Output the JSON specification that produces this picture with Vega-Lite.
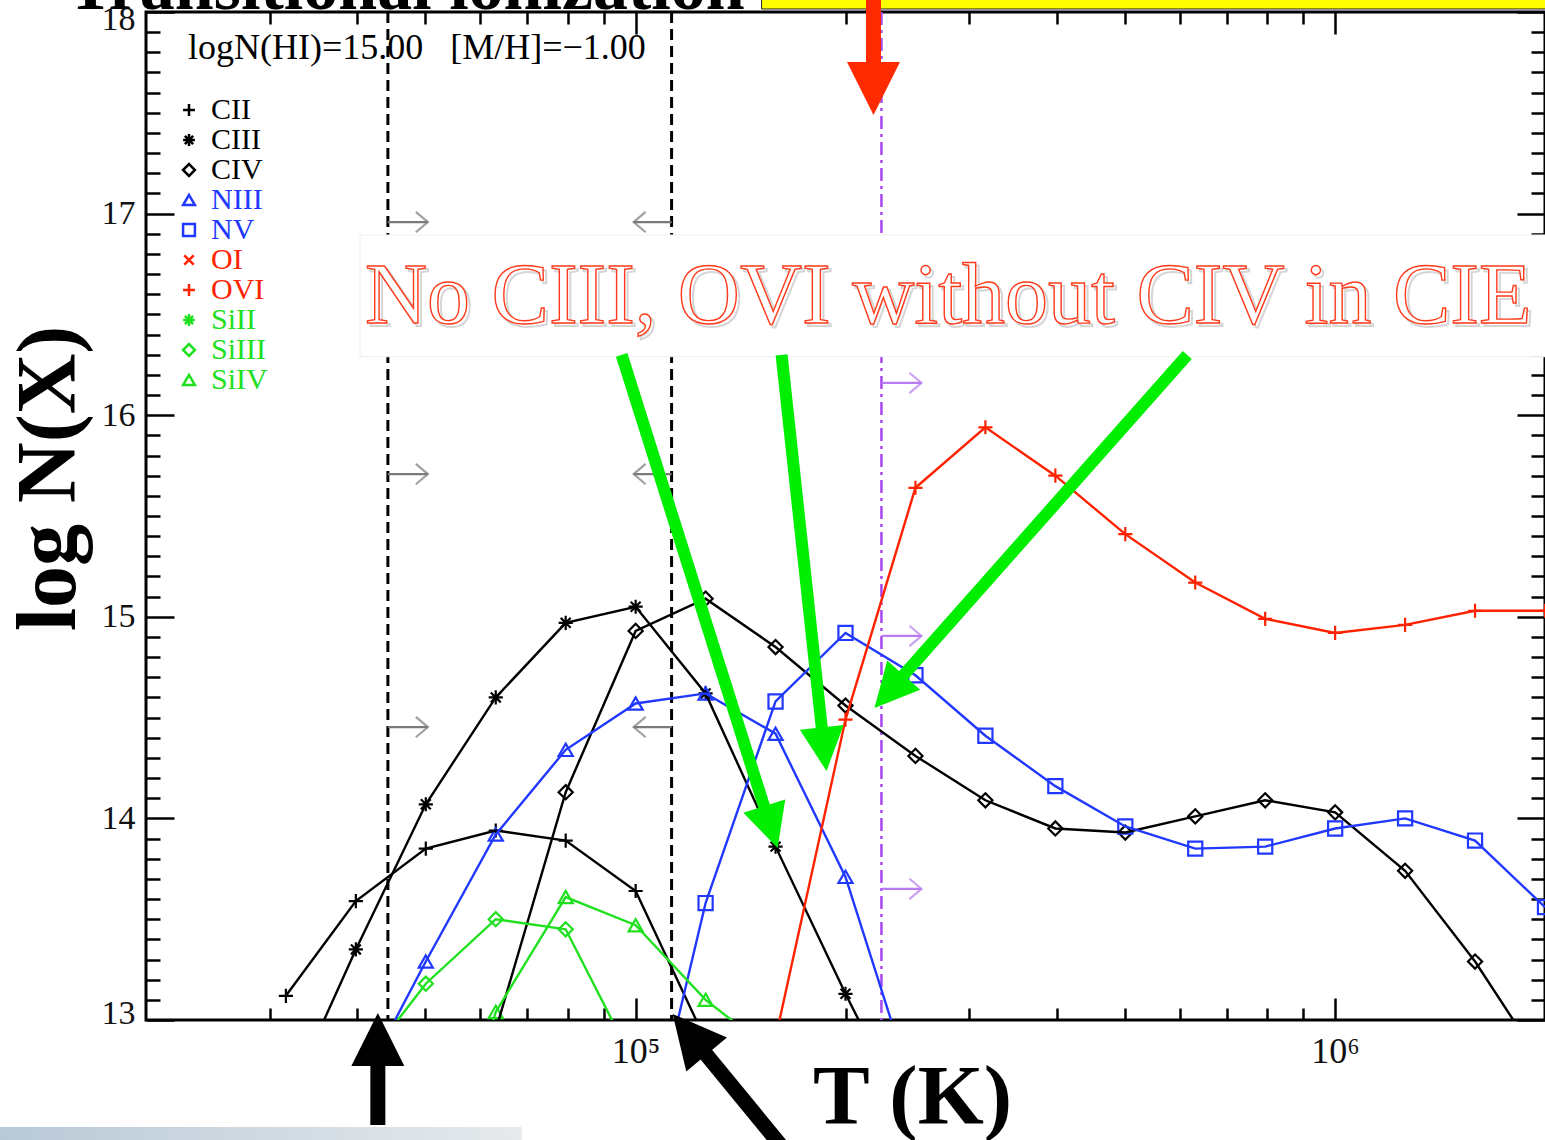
{
"$schema": "https://vega.github.io/schema/vega-lite/v6.json",
"width": 1399, "height": 1008,
"autosize": {"type": "none"},
"padding": {"left": 146, "top": 12, "right": 0, "bottom": 120},
"background": "white",
"config": {
  "view": {"stroke": "#000", "strokeWidth": 3},
  "font": "Liberation Serif",
  "axis": {"grid": false, "domain": false, "labelFont": "Liberation Serif", "titleFont": "Liberation Serif", "tickColor": "#000", "tickWidth": 2.5, "labelColor": "#111", "titleColor": "#000"}
},
"resolve": {"axis": {"x": "independent", "y": "independent"}},
"datasets": {
  "ions": [
    {"ion":"CII","T":31623,"N":13.12},{"ion":"CII","T":39811,"N":13.59},{"ion":"CII","T":50119,"N":13.85},{"ion":"CII","T":63096,"N":13.94},{"ion":"CII","T":79433,"N":13.89},{"ion":"CII","T":100000,"N":13.64},{"ion":"CII","T":125893,"N":12.9},
    {"ion":"CIII","T":31623,"N":12.58},{"ion":"CIII","T":39811,"N":13.35},{"ion":"CIII","T":50119,"N":14.07},{"ion":"CIII","T":63096,"N":14.6},{"ion":"CIII","T":79433,"N":14.97},{"ion":"CIII","T":100000,"N":15.05},{"ion":"CIII","T":125893,"N":14.62},{"ion":"CIII","T":158489,"N":13.86},{"ion":"CIII","T":199526,"N":13.13},{"ion":"CIII","T":251189,"N":12.44},
    {"ion":"CIV","T":63096,"N":12.95},{"ion":"CIV","T":79433,"N":14.13},{"ion":"CIV","T":100000,"N":14.93},{"ion":"CIV","T":125893,"N":15.09},{"ion":"CIV","T":158489,"N":14.85},{"ion":"CIV","T":199526,"N":14.56},{"ion":"CIV","T":251189,"N":14.31},{"ion":"CIV","T":316228,"N":14.09},{"ion":"CIV","T":398107,"N":13.95},{"ion":"CIV","T":501187,"N":13.93},{"ion":"CIV","T":630957,"N":14.01},{"ion":"CIV","T":794328,"N":14.09},{"ion":"CIV","T":1000000,"N":14.03},{"ion":"CIV","T":1258925,"N":13.74},{"ion":"CIV","T":1584893,"N":13.29},{"ion":"CIV","T":1995262,"N":12.76},
    {"ion":"NIII","T":39811,"N":12.63},{"ion":"NIII","T":50119,"N":13.29},{"ion":"NIII","T":63096,"N":13.92},{"ion":"NIII","T":79433,"N":14.34},{"ion":"NIII","T":100000,"N":14.57},{"ion":"NIII","T":125893,"N":14.62},{"ion":"NIII","T":158489,"N":14.42},{"ion":"NIII","T":199526,"N":13.71},{"ion":"NIII","T":251189,"N":12.62},
    {"ion":"NV","T":100000,"N":12.12},{"ion":"NV","T":125893,"N":13.58},{"ion":"NV","T":158489,"N":14.58},{"ion":"NV","T":199526,"N":14.92},{"ion":"NV","T":251189,"N":14.71},{"ion":"NV","T":316228,"N":14.41},{"ion":"NV","T":398107,"N":14.16},{"ion":"NV","T":501187,"N":13.96},{"ion":"NV","T":630957,"N":13.85},{"ion":"NV","T":794328,"N":13.86},{"ion":"NV","T":1000000,"N":13.95},{"ion":"NV","T":1258925,"N":14.0},{"ion":"NV","T":1584893,"N":13.89},{"ion":"NV","T":1995262,"N":13.56},
    {"ion":"OVI","T":158489,"N":12.91},{"ion":"OVI","T":199526,"N":14.49},{"ion":"OVI","T":251189,"N":15.64},{"ion":"OVI","T":316228,"N":15.94},{"ion":"OVI","T":398107,"N":15.7},{"ion":"OVI","T":501187,"N":15.41},{"ion":"OVI","T":630957,"N":15.17},{"ion":"OVI","T":794328,"N":14.99},{"ion":"OVI","T":1000000,"N":14.92},{"ion":"OVI","T":1258925,"N":14.96},{"ion":"OVI","T":1584893,"N":15.03},{"ion":"OVI","T":1995262,"N":15.03},
    {"ion":"SiIII","T":39811,"N":12.73},{"ion":"SiIII","T":50119,"N":13.18},{"ion":"SiIII","T":63096,"N":13.5},{"ion":"SiIII","T":79433,"N":13.45},{"ion":"SiIII","T":100000,"N":12.77},
    {"ion":"SiIV","T":50119,"N":11.9},{"ion":"SiIV","T":63096,"N":13.04},{"ion":"SiIV","T":79433,"N":13.61},{"ion":"SiIV","T":100000,"N":13.47},{"ion":"SiIV","T":125893,"N":13.1},{"ion":"SiIV","T":158489,"N":12.83}
  ],
  "small": [
    {"grp":"gray","dir":"right","T1":44240,"T2":50460,"N":16.958},
    {"grp":"gray","dir":"right","T1":44240,"T2":50460,"N":15.708},
    {"grp":"gray","dir":"right","T1":44240,"T2":50460,"N":14.453},
    {"grp":"gray","dir":"left","T1":112560,"T2":99340,"N":16.958},
    {"grp":"gray","dir":"left","T1":112560,"T2":99340,"N":15.708},
    {"grp":"gray","dir":"left","T1":112560,"T2":99340,"N":14.453},
    {"grp":"purple","dir":"right","T1":224590,"T2":256200,"N":16.16},
    {"grp":"purple","dir":"right","T1":224590,"T2":256200,"N":14.905},
    {"grp":"purple","dir":"right","T1":224590,"T2":256200,"N":13.65}
  ],
  "green": [
    {"T1":95500,"N1":16.299,"T2":155940,"N2":13.957,"Tt":159560,"Nt":13.853,"angle":162.4},
    {"T1":161670,"N1":16.299,"T2":185940,"N2":14.344,"Tt":187430,"Nt":14.235,"angle":173.8},
    {"T1":614600,"N1":16.299,"T2":230300,"N2":14.629,"Tt":219500,"Nt":14.548,"angle":221.6}
  ],
  "pointers": [
    {"grp":"black","T1":42800,"N1":12.479,"T2":42800,"N2":12.901,"Tt":42800,"Nt":13.035,"angle":0},
    {"grp":"black","T1":163270,"N1":12.355,"T2":119330,"N2":12.931,"Tt":112950,"Nt":13.03,"angle":320.1},
    {"grp":"red","T1":218780,"N1":18.2,"T2":218780,"N2":17.628,"Tt":218780,"Nt":17.489,"angle":180}
  ]
},
"layer": [
  {
    "data": {"values": [{"T1":12340,"T2":68730,"N1":12.469,"N2":12.3}]},
    "mark": {"type":"rect","clip":false,"color":{"gradient":"linear","x1":0,"x2":1,"y1":0,"y2":0,"stops":[{"offset":0,"color":"#b9c9d7"},{"offset":1,"color":"#e6eaed"}]}},
    "encoding": {
      "x": {"field":"T1","type":"quantitative","scale":{"type":"log","domain":[19953,1995262],"nice":false},"axis":null},
      "x2": {"field":"T2"},
      "y": {"field":"N1","type":"quantitative","scale":{"domain":[13,18],"nice":false,"zero":false},"axis":null},
      "y2": {"field":"N2"}
    }
  },
  {
    "data": {"values": [{"T1":151356,"T2":3000000,"N1":18.015,"N2":18.4}]},
    "mark": {"type":"rect","clip":false,"color":"#ffff00","stroke":"#222","strokeWidth":1},
    "encoding": {
      "x": {"field":"T1","type":"quantitative","axis":null},
      "x2": {"field":"T2"},
      "y": {"field":"N1","type":"quantitative","axis":null},
      "y2": {"field":"N2"}
    }
  },
  {
    "data": {"values": [{"T":44240},{"T":112560}]},
    "mark": {"type":"rule","color":"#000","strokeWidth":3,"strokeDash":[11,6]},
    "encoding": {"x": {"field":"T","type":"quantitative","axis":null}}
  },
  {
    "data": {"values": [{"T":224590}]},
    "mark": {"type":"rule","color":"#a848f0","strokeWidth":2.5,"strokeDash":[13,5,3,5]},
    "encoding": {"x": {"field":"T","type":"quantitative","axis":null}}
  },
  {
    "data": {"name":"small"},
    "mark": {"type":"rule","strokeWidth":2.2},
    "encoding": {
      "x": {"field":"T1","type":"quantitative","axis":{"orient":"bottom","values":[100000,1000000],"labels":false,"tickSize":-22,"title":null}},
      "x2": {"field":"T2"},
      "y": {"field":"N","type":"quantitative","axis":{"orient":"left","values":[13,14,15,16,17,18],"labels":false,"tickSize":-28,"title":null}},
      "stroke": {"field":"grp","type":"nominal","scale":{"domain":["gray","purple","black","red"],"range":["#7a7a7a","#b77cf0","#000000","#ff2a00"]},"legend":null}
    }
  },
  {
    "data": {"name":"small"},
    "transform": [{"filter":"datum.dir == 'right'"}],
    "mark": {"type":"point","shape":"M-1,-0.85L0,0L-1,0.85","size":576,"filled":false,"strokeWidth":2.2},
    "encoding": {
      "x": {"field":"T2","type":"quantitative","axis":{"orient":"top","values":[100000,1000000],"labels":false,"tickSize":-22,"title":null}},
      "y": {"field":"N","type":"quantitative","axis":{"orient":"right","values":[13,14,15,16,17,18],"labels":false,"tickSize":-28,"title":null}},
      "stroke": {"field":"grp","type":"nominal","legend":null}
    }
  },
  {
    "data": {"name":"small"},
    "transform": [{"filter":"datum.dir == 'left'"}],
    "mark": {"type":"point","shape":"M1,-0.85L0,0L1,0.85","size":576,"filled":false,"strokeWidth":2.2},
    "encoding": {
      "x": {"field":"T2","type":"quantitative","axis":{"orient":"top","values":[30000,40000,50000,60000,70000,80000,90000,200000,300000,400000,500000,600000,700000,800000,900000],"labels":false,"tickSize":-12,"title":null}},
      "y": {"field":"N","type":"quantitative","axis":{"orient":"right","values":[13.1,13.2,13.3,13.4,13.5,13.6,13.7,13.8,13.9,14.1,14.2,14.3,14.4,14.5,14.6,14.7,14.8,14.9,15.1,15.2,15.3,15.4,15.5,15.6,15.7,15.8,15.9,16.1,16.2,16.3,16.4,16.5,16.6,16.7,16.8,16.9,17.1,17.2,17.3,17.4,17.5,17.6,17.7,17.8,17.9],"labels":false,"tickSize":-14,"title":null}},
      "stroke": {"field":"grp","type":"nominal","legend":null}
    }
  },
  {
    "data": {"name":"ions"},
    "mark": {"type":"point","clip":true,"filled":false,"strokeWidth":2.2,"size":200,"opacity":1},
    "encoding": {
      "x": {"field":"T","type":"quantitative","axis":{"orient":"bottom","values":[30000,40000,50000,60000,70000,80000,90000,200000,300000,400000,500000,600000,700000,800000,900000],"labels":false,"tickSize":-12,"title":null}},
      "y": {"field":"N","type":"quantitative","axis":{"orient":"left","values":[13.1,13.2,13.3,13.4,13.5,13.6,13.7,13.8,13.9,14.1,14.2,14.3,14.4,14.5,14.6,14.7,14.8,14.9,15.1,15.2,15.3,15.4,15.5,15.6,15.7,15.8,15.9,16.1,16.2,16.3,16.4,16.5,16.6,16.7,16.8,16.9,17.1,17.2,17.3,17.4,17.5,17.6,17.7,17.8,17.9],"labels":false,"tickSize":-14,"title":null}},
      "color": {"field":"ion","type":"nominal","scale":{"domain":["CII","CIII","CIV","NIII","NV","OI","OVI","SiII","SiIII","SiIV"],"range":["#000000","#000000","#000000","#2138ff","#2138ff","#ff2200","#ff2200","#20e020","#20e020","#20e020"]},"legend":{"orient":"none","legendX":28,"legendY":83,"title":null,"padding":0,"labelFont":"Liberation Serif","labelFontSize":30,"symbolSize":140,"symbolStrokeWidth":2.5,"rowPadding":0,"labelOffset":7,"encode":{"labels":{"update":{"fill":{"scale":"color","field":"value"}}}}}},
      "shape": {"field":"ion","type":"nominal","scale":{"domain":["CII","CIII","CIV","NIII","NV","OI","OVI","SiII","SiIII","SiIV"],"range":["M-1,0L1,0M0,-1L0,1","M-1,0L1,0M0,-1L0,1M-0.7,-0.7L0.7,0.7M-0.7,0.7L0.7,-0.7","diamond","triangle-up","square","M-0.8,-0.8L0.8,0.8M-0.8,0.8L0.8,-0.8","M-1,0L1,0M0,-1L0,1","M-1,0L1,0M0,-1L0,1M-0.7,-0.7L0.7,0.7M-0.7,0.7L0.7,-0.7","diamond","triangle-up"]},"legend":{"orient":"none","legendX":28,"legendY":83,"title":null,"padding":0,"labelFont":"Liberation Serif","labelFontSize":30,"symbolSize":140,"symbolStrokeWidth":2.5,"rowPadding":0,"labelOffset":7,"encode":{"labels":{"update":{"fill":{"scale":"color","field":"value"}}}}}}
    }
  },
  {
    "data": {"name":"ions"},
    "mark": {"type":"line","clip":true,"strokeWidth":2.4},
    "encoding": {
      "x": {"field":"T","type":"quantitative","axis":{"orient":"bottom","values":[100000,1000000],"ticks":false,"labelExpr":"datum.value == 100000 ? '10⁵' : '10⁶'","labelFontSize":36,"labelPadding":14,"title":"T (K)","titleFontSize":85,"titleFontWeight":"bold","titleX":766,"titleY":103,"titleAlign":"center","titleBaseline":"alphabetic"}},
      "y": {"field":"N","type":"quantitative","axis":{"orient":"left","values":[13,14,15,16,17,18],"ticks":false,"labelFontSize":34,"labelPadding":11,"labelFlush":true,"labelFlushOffset":10,"title":"log N(X)","titleFontSize":84,"titleFontWeight":"bold","titleX":-72,"titleY":466,"titleAngle":-90,"titleAlign":"center","titleBaseline":"alphabetic"}},
      "color": {"field":"ion","type":"nominal","legend":{"orient":"none","legendX":28,"legendY":83,"title":null,"padding":0,"labelFont":"Liberation Serif","labelFontSize":30,"symbolSize":140,"symbolStrokeWidth":2.5,"rowPadding":0,"labelOffset":7,"encode":{"labels":{"update":{"fill":{"scale":"color","field":"value"}}}}}},
      "order": {"field":"T","type":"quantitative"}
    }
  },
  {
    "data": {"values": [{"label":"logN(HI)=15.00\u00a0\u00a0\u00a0[M/H]=\u22121.00","T":22909,"N":17.767}]},
    "mark": {"type":"text","align":"left","baseline":"alphabetic","fontSize":36,"font":"Liberation Serif","color":"#000","clip":false},
    "encoding": {
      "x": {"field":"T","type":"quantitative","axis":null},
      "y": {"field":"N","type":"quantitative","axis":null},
      "text": {"field":"label"}
    }
  },
  {
    "data": {"values": [{"T1":40364,"T2":3000000,"N1":16.894,"N2":16.29}]},
    "mark": {"type":"rect","clip":false,"color":"#ffffff","stroke":"#eeeeee","strokeWidth":1},
    "encoding": {
      "x": {"field":"T1","type":"quantitative","axis":null},
      "x2": {"field":"T2"},
      "y": {"field":"N1","type":"quantitative","axis":null},
      "y2": {"field":"N2"}
    }
  },
  {
    "data": {"values": [{"label":"No CIII, OVI without CIV in CIE","T":41020,"N":16.457}]},
    "mark": {"type":"text","align":"left","baseline":"alphabetic","fontSize":86,"font":"Liberation Serif","fill":"transparent","stroke":"#d6d6d6","strokeWidth":2,"dx":3,"dy":3,"clip":false},
    "encoding": {
      "x": {"field":"T","type":"quantitative","axis":null},
      "y": {"field":"N","type":"quantitative","axis":null},
      "text": {"field":"label"}
    }
  },
  {
    "data": {"values": [{"label":"No CIII, OVI without CIV in CIE","T":41020,"N":16.457}]},
    "mark": {"type":"text","align":"left","baseline":"alphabetic","fontSize":86,"font":"Liberation Serif","fill":"#ffffff","stroke":"#ff3a1a","strokeWidth":1.4,"clip":false},
    "encoding": {
      "x": {"field":"T","type":"quantitative","axis":null},
      "y": {"field":"N","type":"quantitative","axis":null},
      "text": {"field":"label"}
    }
  },
  {
    "data": {"name":"green"},
    "mark": {"type":"rule","color":"#00ee00","strokeWidth":12,"clip":false},
    "encoding": {
      "x": {"field":"T1","type":"quantitative","axis":null},
      "x2": {"field":"T2"},
      "y": {"field":"N1","type":"quantitative","axis":null},
      "y2": {"field":"N2"}
    }
  },
  {
    "data": {"name":"green"},
    "mark": {"type":"point","shape":"M0,0L-0.5,1L0.5,1Z","size":7744,"filled":true,"color":"#00ee00","opacity":1,"clip":false},
    "encoding": {
      "x": {"field":"Tt","type":"quantitative","axis":null},
      "y": {"field":"Nt","type":"quantitative","axis":null},
      "angle": {"field":"angle","type":"quantitative","scale":null}
    }
  },
  {
    "data": {"name":"pointers"},
    "mark": {"type":"rule","strokeWidth":15,"clip":false},
    "encoding": {
      "x": {"field":"T1","type":"quantitative","axis":null},
      "x2": {"field":"T2"},
      "y": {"field":"N1","type":"quantitative","axis":null},
      "y2": {"field":"N2"},
      "stroke": {"field":"grp","type":"nominal","legend":null}
    }
  },
  {
    "data": {"name":"pointers"},
    "mark": {"type":"point","shape":"M0,0L-0.5,1L0.5,1Z","size":11236,"filled":true,"opacity":1,"clip":false},
    "encoding": {
      "x": {"field":"Tt","type":"quantitative","axis":null},
      "y": {"field":"Nt","type":"quantitative","axis":null},
      "angle": {"field":"angle","type":"quantitative","scale":null},
      "fill": {"field":"grp","type":"nominal","scale":{"domain":["black","red"],"range":["#000000","#ff2a00"]},"legend":null}
    }
  },
  {
    "data": {"values": [{"label":"Transitional ionization","T":143200,"N":18.015}]},
    "mark": {"type":"text","align":"right","baseline":"alphabetic","fontSize":70,"fontWeight":"bold","font":"Liberation Serif","color":"#000","clip":false},
    "encoding": {
      "x": {"field":"T","type":"quantitative","axis":null},
      "y": {"field":"N","type":"quantitative","axis":null},
      "text": {"field":"label"}
    }
  }
]
}
